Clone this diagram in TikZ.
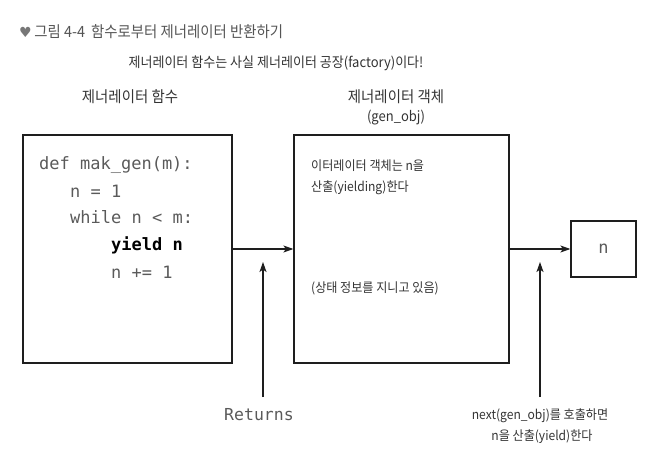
\documentclass[tikz,border=0pt]{standalone}
\usepackage{fontspec}
\usetikzlibrary{arrows.meta}
\newfontfamily\kr[FakeStretch=0.93]{Noto Sans CJK KR}
\newfontfamily\codefont{DejaVu Sans Mono}
\newfontfamily\symfont{DejaVu Sans}
\definecolor{txt}{HTML}{333333}
\definecolor{ttl}{HTML}{555555}
\definecolor{codec}{HTML}{5A5A5A}
\definecolor{ln}{HTML}{1E1E1E}
\tikzset{
  box/.style={draw=ln, line width=1.2pt, inner sep=0pt},
  arr/.style={draw=ln, line width=1.2pt, -{Stealth[length=10pt,width=7pt,inset=2.5pt]}},
  krtext/.style={font=\kr\fontsize{13}{16}\selectfont, text=txt, inner sep=0pt, anchor=base},
  krlab/.style={font=\kr\fontsize{15.5}{18}\selectfont, text=txt, inner sep=0pt, anchor=base},
  codeline/.style={font=\codefont\fontsize{17}{20}\selectfont, text=codec, inner sep=0pt, anchor=base west},
}
\begin{document}
\begin{tikzpicture}[x=1pt,y=-1pt]
\useasboundingbox (0,0) rectangle (662,468);
% title
\node[inner sep=0pt, anchor=base west, text=ttl, font=\kr\fontsize{15.5}{18}\selectfont] (title) at (19,37.5)
  {{\symfont\color{ttl!80}\fontsize{14}{16}\selectfont ♥}\,그림 4-4\hspace{6pt}함수로부터 제너레이터 반환하기};
\node[krtext, font=\kr\fontsize{14}{17}\selectfont] (sub) at (276,67.5) {제너레이터 함수는 사실 제너레이터 공장(factory)이다!};
\node[krlab] (lab1) at (130,102.5) {제너레이터 함수};
\node[krlab] (lab2) at (396,102.5) {제너레이터 객체};
\node[krlab, font=\kr\fontsize{14}{17}\selectfont] (lab3) at (396,122) {(gen\_obj)};
% boxes
\node[box, minimum width=209pt, minimum height=228pt] (f) at (127.5,249) {};
\node[box, minimum width=215pt, minimum height=228pt] (g) at (401.5,249) {};
\node[box, minimum width=65pt, minimum height=56pt, font=\codefont\fontsize{17}{20}\selectfont, text=codec] (nb) at (603.5,249) {n};
% code
\node[codeline] (c1) at (39,170) {def mak\_gen(m):};
\node[codeline] (c2) at (70,197) {n = 1};
\node[codeline] (c3) at (70,224) {while n < m:};
\node[codeline, font=\codefont\bfseries\fontsize{17}{20}\selectfont, text=black] (c4) at (111,251) {yield n};
\node[codeline] (c5) at (111,278) {n += 1};
% object text
\node[krtext, anchor=base west] (o1) at (311,171) {이터레이터 객체는 n을};
\node[krtext, anchor=base west] (o2) at (311,192) {산출(yielding)한다};
\node[krtext, anchor=base west] (o3) at (311,292) {(상태 정보를 지니고 있음)};
% arrows
\draw[arr] (f.east) -- (g.west);
\draw[arr] (g.east) -- (nb.west);
\coordinate (r0) at (263,397);
\coordinate (r1) at (263,262);
\coordinate (s0) at (540,397);
\coordinate (s1) at (540,262);
\draw[arr] (r0) -- (r1);
\draw[arr] (s0) -- (s1);
% bottom labels
\node[codeline, anchor=base, font=\codefont\fontsize{16.5}{20}\selectfont] (ret) at (259,420) {Returns};
\node[krtext, font=\kr\fontsize{13}{15}\selectfont] (nx1) at (540,419) {next(gen\_obj)를 호출하면};
\node[krtext, font=\kr\fontsize{13}{15}\selectfont] (nx2) at (542,440) {n을 산출(yield)한다};
\end{tikzpicture}
\end{document}
